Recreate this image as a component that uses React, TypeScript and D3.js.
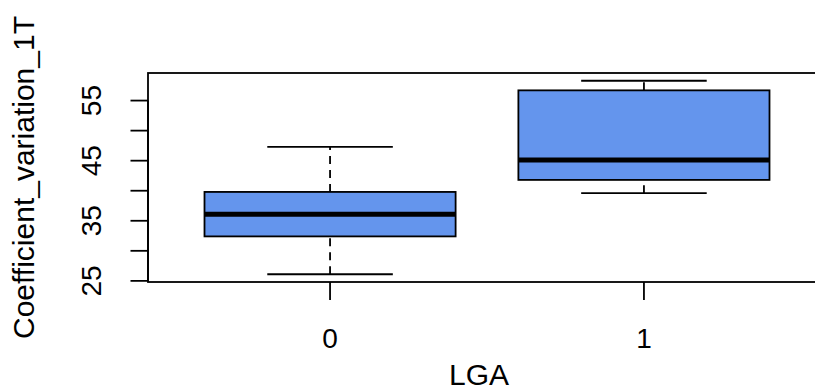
import React, { useEffect, useRef } from 'react';
import * as d3 from 'd3';

// Boxplot stats
const groups = ['0', '1'];
const lowerWhisker = [26.1, 39.6];
const q1 = [32.4, 41.8];
const median = [36.1, 45.1];
const q3 = [39.8, 56.7];
const upperWhisker = [47.3, 58.3];
const yTicks = [25, 30, 35, 40, 45, 50, 55];
const yTickLabels = [25, 35, 45, 55];

const W = 815;
const H = 388;

const App = () => {
  const ref = useRef<SVGSVGElement>(null);

  useEffect(() => {
    const svg = d3.select(ref.current);
    svg.selectAll('*').remove();

    const font = 'Liberation Sans, Arial, sans-serif';
    const left = 148;
    const right = 826;
    const top = 73;
    const bottom = 282;

    // R style: xlim = c(0.5, n + 0.5) extended by 4%
    const n = groups.length;
    const pad = n * 0.04;
    const x = d3.scaleLinear().domain([0.5 - pad, n + 0.5 + pad]).range([left, right]);
    const lo = d3.min(lowerWhisker)!;
    const hi = d3.max(upperWhisker)!;
    const yPad = (hi - lo) * 0.04;
    const y = d3.scaleLinear().domain([lo - yPad, hi + yPad]).range([bottom, top]);

    const boxW = 0.4;
    const capW = 0.2;
    const g = svg.append('g');

    groups.forEach((name, i) => {
      const c = i + 1;
      // dashed whiskers
      [[q3[i], upperWhisker[i]], [lowerWhisker[i], q1[i]]].forEach(([a, b]) => {
        g.append('line')
          .attr('x1', x(c)).attr('x2', x(c))
          .attr('y1', y(a)).attr('y2', y(b))
          .attr('stroke', '#000').attr('stroke-width', 1.8)
          .attr('stroke-dasharray', '8,6');
      });
      // caps
      [upperWhisker[i], lowerWhisker[i]].forEach(v => {
        g.append('line')
          .attr('x1', x(c - capW)).attr('x2', x(c + capW))
          .attr('y1', y(v)).attr('y2', y(v))
          .attr('stroke', '#000').attr('stroke-width', 1.8);
      });
      // box
      g.append('rect')
        .attr('x', x(c - boxW))
        .attr('y', y(q3[i]))
        .attr('width', x(c + boxW) - x(c - boxW))
        .attr('height', y(q1[i]) - y(q3[i]))
        .attr('fill', '#6495ED')
        .attr('stroke', '#000').attr('stroke-width', 1.8);
      // median
      g.append('line')
        .attr('x1', x(c - boxW)).attr('x2', x(c + boxW))
        .attr('y1', y(median[i])).attr('y2', y(median[i]))
        .attr('stroke', '#000').attr('stroke-width', 5);
    });

    // plot frame
    svg.append('rect')
      .attr('x', left).attr('y', top)
      .attr('width', right - left).attr('height', bottom - top)
      .attr('fill', 'none').attr('stroke', '#000').attr('stroke-width', 1.8);

    // y axis
    const yAxis = svg.append('g');
    yAxis.append('line')
      .attr('x1', left).attr('x2', left)
      .attr('y1', y(yTicks[0])).attr('y2', y(yTicks[yTicks.length - 1]))
      .attr('stroke', '#000').attr('stroke-width', 1.8);
    yTicks.forEach(t => {
      yAxis.append('line')
        .attr('x1', left - 17.5).attr('x2', left)
        .attr('y1', y(t)).attr('y2', y(t))
        .attr('stroke', '#000').attr('stroke-width', 1.8);
    });
    yTickLabels.forEach(t => {
      yAxis.append('text')
        .attr('transform', `translate(${101},${y(t)}) rotate(-90)`)
        .attr('text-anchor', 'middle')
        .attr('font-family', font).attr('font-size', 28)
        .text(t);
    });

    // x axis
    const xAxis = svg.append('g');
    groups.forEach((name, i) => {
      xAxis.append('line')
        .attr('x1', x(i + 1)).attr('x2', x(i + 1))
        .attr('y1', bottom).attr('y2', bottom + 18)
        .attr('stroke', '#000').attr('stroke-width', 1.8);
      xAxis.append('text')
        .attr('x', x(i + 1)).attr('y', 348)
        .attr('text-anchor', 'middle')
        .attr('font-family', font).attr('font-size', 28)
        .text(name);
    });

    // axis titles
    svg.append('text')
      .attr('x', (left + right) / 2 - 8).attr('y', 385)
      .attr('text-anchor', 'middle')
      .attr('font-family', font).attr('font-size', 30)
      .text('LGA');
    svg.append('text')
      .attr('transform', `translate(${34},${(top + bottom) / 2}) rotate(-90)`)
      .attr('text-anchor', 'middle')
      .attr('font-family', font).attr('font-size', 30)
      .text('Coefficient_variation_1T');
  }, []);

  return (
    <svg ref={ref} width={W} height={H}
      style={{ position: 'absolute', left: 0, top: 0, background: '#fff' }} />
  );
};

export default App;
